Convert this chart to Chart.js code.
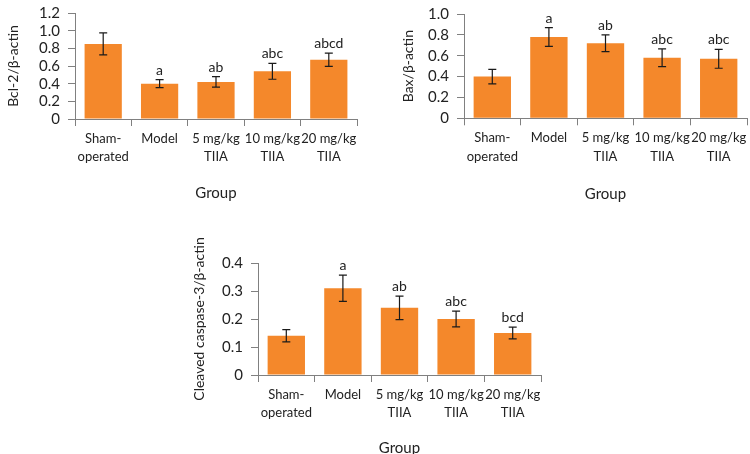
<!DOCTYPE html>
<html>
<head>
<meta charset="utf-8">
<script src="https://cdn.jsdelivr.net/npm/chart.js@4.4.0/dist/chart.umd.min.js"></script>
<style>
  html, body { margin: 0; padding: 0; background: #fff; width: 750px; height: 454px; overflow: hidden; position: relative; }
  .box { position: absolute; }
</style>
</head>
<body>
<div class="box" style="left:0px;top:-4px;width:367px;height:206px"><canvas id="c1"></canvas></div>
<div class="box" style="left:395px;top:-3px;width:355px;height:206px"><canvas id="c2"></canvas></div>
<div class="box" style="left:185px;top:233px;width:366px;height:224px"><canvas id="c3"></canvas></div>
<script>
const groups = [['Sham-', 'operated'], ['Model'], ['5 mg/kg', 'TIIA'], ['10 mg/kg', 'TIIA'], ['20 mg/kg', 'TIIA']];

const bcl2 = [0.85, 0.40, 0.42, 0.54, 0.67];
const bcl2Err = [0.125, 0.045, 0.06, 0.09, 0.075];
const bcl2Marks = ['', 'a', 'ab', 'abc', 'abcd'];

const bax = [0.40, 0.78, 0.72, 0.58, 0.57];
const baxErr = [0.07, 0.09, 0.08, 0.085, 0.09];
const baxMarks = ['', 'a', 'ab', 'abc', 'abc'];

const casp = [0.14, 0.31, 0.24, 0.20, 0.15];
const caspErr = [0.022, 0.047, 0.042, 0.028, 0.021];
const caspMarks = ['', 'a', 'ab', 'abc', 'bcd'];

const FONT = 'Lato, "Open Sans", sans-serif';
const TEXT = '#222';
const AXIS = '#808080';
const ORANGE = '#F4882B';

// error bars + significance letters
const errorBars = {
  id: 'errorBars',
  afterDatasetsDraw(chart) {
    const ctx = chart.ctx;
    const y = chart.scales.y;
    const ds = chart.data.datasets[0];
    const meta = chart.getDatasetMeta(0);
    ctx.save();
    ctx.strokeStyle = '#1a1a1a';
    ctx.lineWidth = 1.2;
    ctx.fillStyle = TEXT;
    ctx.font = '14px ' + FONT;
    ctx.textAlign = 'center';
    ctx.textBaseline = 'alphabetic';
    meta.data.forEach((bar, i) => {
      const v = ds.data[i], e = ds.err[i];
      const yt = y.getPixelForValue(v + e);
      const yb = y.getPixelForValue(v - e);
      const x = bar.x;
      ctx.beginPath();
      ctx.moveTo(x, yt); ctx.lineTo(x, yb);
      ctx.moveTo(x - 4, yt); ctx.lineTo(x + 4, yt);
      ctx.moveTo(x - 4, yb); ctx.lineTo(x + 4, yb);
      ctx.stroke();
      if (ds.marks[i]) ctx.fillText(ds.marks[i], x, yt - 5);
    });
    ctx.restore();
  }
};

function makeChart(id, vals, errs, marks, yTitle, yMax, yStep, yWidth, xHeight, padTop, padRight, titlePad) {
  return new Chart(document.getElementById(id), {
    type: 'bar',
    data: {
      labels: groups,
      datasets: [{
        data: vals, err: errs, marks: marks,
        backgroundColor: ORANGE,
        borderWidth: 0,
        barPercentage: 0.66,
        categoryPercentage: 1
      }]
    },
    options: {
      responsive: true,
      maintainAspectRatio: false,
      animation: false,
      devicePixelRatio: 1,
      layout: { padding: { top: padTop, right: padRight, left: 0, bottom: 0 } },
      plugins: { legend: { display: false }, tooltip: { enabled: false } },
      scales: {
        x: {
          grid: { display: true, offset: true, drawOnChartArea: false, drawTicks: true, tickLength: 7, color: AXIS, lineWidth: 1 },
          border: { display: true, color: AXIS, width: 1 },
          ticks: { color: TEXT, font: { family: FONT, size: 13, lineHeight: 1.45 }, padding: 3, maxRotation: 0, autoSkip: false },
          title: { display: true, text: 'Group', color: TEXT, font: { family: FONT, size: 15 }, padding: { top: 0, bottom: 0 } },
          afterFit(s) { s.height = xHeight; }
        },
        y: {
          min: 0, max: yMax,
          grid: { display: true, drawOnChartArea: false, drawTicks: true, tickLength: 7, color: AXIS, lineWidth: 1 },
          border: { display: true, color: AXIS, width: 1 },
          ticks: {
            stepSize: yStep, color: TEXT, padding: 8, autoSkip: false,
            font: { family: FONT, size: 15 },
            callback: v => Math.abs(v) < 1e-9 ? '0' : v.toFixed(1)
          },
          title: { display: true, text: yTitle, color: TEXT, font: { family: FONT, size: 14 }, padding: { top: titlePad, bottom: 0 } },
          afterFit(s) { s.width = yWidth; }
        }
      }
    },
    plugins: [errorBars]
  });
}

makeChart('c1', bcl2, bcl2Err, bcl2Marks, 'Bcl-2/β-actin', 1.2, 0.2, 75, 83, 10, 10, 5);
makeChart('c2', bax, baxErr, baxMarks, 'Bax/β-actin', 1.0, 0.2, 69, 84.7, 10, 3, 4.6);
makeChart('c3', casp, caspErr, caspMarks, 'Cleaved caspase-3/β-actin', 0.4, 0.1, 73, 82, 30, 10, 6);
</script>
</body>
</html>
